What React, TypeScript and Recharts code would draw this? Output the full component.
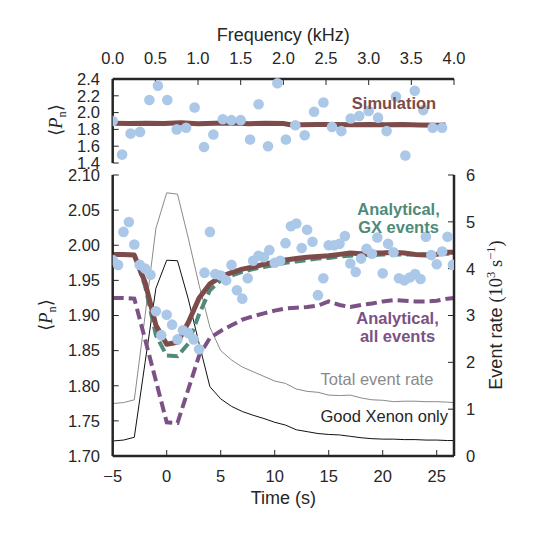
import { ComposedChart, Line, Scatter, XAxis, YAxis } from "recharts";

const FONT = "'Liberation Sans', Arial, sans-serif";
const SERIF = "'Liberation Serif', 'DejaVu Serif', serif";
const INK = "#262626";
const DOT = "#abc8e8";
const SIM = "#7d4b49";
const GX = "#4f8a7b";
const ALL = "#7b5186";
const TOTAL = "#8a8a8a";
const GOOD = "#111111";

// upper panel: <Pn> against frequency
const freqKHz = [
  0, 0.11, 0.21, 0.32, 0.43, 0.53, 0.64, 0.75, 0.86, 0.96, 1.07, 1.18, 1.29,
  1.39, 1.5, 1.61, 1.71, 1.82, 1.93, 2.03, 2.14, 2.25, 2.36, 2.47, 2.57, 2.68,
  2.79, 2.89, 3.0, 3.11, 3.21, 3.32, 3.43, 3.54, 3.64, 3.75, 3.86,
];
const freqPn = [
  1.9, 1.5, 1.75, 1.77, 2.15, 2.32, 2.15, 1.8, 1.82, 2.06, 1.59, 1.74, 1.92,
  1.91, 1.91, 1.68, 2.1, 1.6, 2.35, 1.68, 1.85, 1.73, 2.01, 2.12, 1.83, 1.78,
  1.93, 1.96, 2.02, 1.94, 1.78, 2.19, 1.49, 2.26, 2.03, 1.82, 1.82,
];
const simFreq = [
  0, 0.2, 0.4, 0.6, 0.8, 1.0, 1.2, 1.4, 1.6, 1.8, 2.0, 2.1, 2.2, 2.4, 2.6, 2.8,
  3.0, 3.2, 3.4, 3.6, 3.8, 3.9,
];
const simFreqPn = [
  1.872, 1.87, 1.873, 1.871, 1.878, 1.868, 1.873, 1.875, 1.867, 1.874, 1.87,
  1.853, 1.856, 1.858, 1.859, 1.855, 1.859, 1.856, 1.858, 1.852, 1.85, 1.852,
];

// lower panel: <Pn> and event rates against time
const scatterTime = [
  -5, -4.5, -4, -3.5, -3, -2.5, -2, -1.5, -1, -0.5, 0, 0.5, 1, 1.5, 2, 2.5, 3,
  3.5, 4, 4.5, 5, 5.5, 6, 6.5, 7, 7.5, 8, 8.5, 9, 9.5, 10, 10.5, 11, 11.5, 12,
  12.5, 13, 13.5, 14, 14.5, 15, 15.5, 16, 16.5, 17, 17.5, 18, 18.5, 19, 19.5,
  20, 20.5, 21, 21.5, 22, 22.5, 23, 23.5, 24, 24.5, 25, 25.5, 26, 26.5,
];
const scatterPn = [
  1.979, 1.972, 2.019, 2.033, 2.001, 1.972, 1.967, 1.958, 1.906, 1.872, 1.901,
  1.887, 1.866, 1.879, 1.875, 1.866, 1.852, 1.961, 2.019, 1.959, 1.957, 1.95,
  1.972, 1.936, 1.924, 1.953, 1.978, 1.985, 1.983, 1.993, 1.975, 1.978, 2.003,
  2.027, 2.031, 1.996, 2.022, 2.005, 1.929, 1.953, 2.0, 2.0, 2.002, 2.013,
  1.974, 1.962, 1.981, 1.995, 1.988, 2.011, 1.96, 2.002, 1.99, 1.953, 1.95,
  1.954, 1.959, 1.952, 2.012, 1.986, 1.973, 1.991, 2.012, 1.972,
];

const lineTime = [
  -5, -4, -3, -2, -1, 0, 1, 2, 3, 4, 5, 6, 7, 8, 9, 10, 11, 12, 13, 14, 15, 16,
  17, 18, 19, 20, 21, 22, 23, 24, 25, 26, 26.6,
];
const simPn = [
  1.987, 1.987, 1.986, 1.947, 1.886, 1.859, 1.862, 1.89, 1.925, 1.945, 1.955,
  1.961, 1.966, 1.969, 1.973, 1.976, 1.979, 1.981, 1.983, 1.984, 1.985, 1.987,
  1.989, 1.988, 1.989, 1.989, 1.99, 1.989, 1.987, 1.986, 1.987, 1.99, 1.99,
];
const gxPn = [
  1.987, 1.987, 1.986, 1.942, 1.872, 1.843, 1.842, 1.86, 1.902, 1.936, 1.95,
  1.957, 1.962, 1.966, 1.969, 1.972, 1.975, 1.977, 1.979, 1.981, 1.982, 1.984,
  1.985, 1.986, 1.986, 1.987, 1.987, 1.987, 1.987, 1.987, 1.988, 1.988, 1.988,
];
const allPn = [
  1.925, 1.925, 1.924, 1.866, 1.807, 1.748, 1.747, 1.795, 1.843, 1.868, 1.878,
  1.886, 1.894, 1.899, 1.903, 1.907, 1.91, 1.911, 1.912, 1.914, 1.92, 1.915,
  1.912, 1.915, 1.917, 1.92, 1.922, 1.921, 1.92, 1.92, 1.921, 1.924, 1.925,
];
const totalRate = [
  1.12, 1.14, 1.2, 3.0, 4.86, 5.62, 5.59, 4.65, 3.65, 2.75, 2.25, 2.05, 1.9,
  1.8, 1.7, 1.6, 1.55, 1.43, 1.38, 1.36, 1.3, 1.29, 1.3, 1.24, 1.2, 1.19, 1.16,
  1.17, 1.17, 1.16, 1.16, 1.15, 1.14,
];
const goodXenonRate = [
  0.32, 0.34, 0.4, 2.0, 3.58, 4.18, 4.17, 3.35, 2.4, 1.48, 1.22, 1.06, 0.95,
  0.87, 0.8, 0.72, 0.66, 0.56, 0.52, 0.48, 0.46, 0.45, 0.42, 0.39, 0.37, 0.36,
  0.36, 0.35, 0.35, 0.34, 0.34, 0.33, 0.33,
];

const freqTicks = [0, 0.5, 1, 1.5, 2, 2.5, 3, 3.5, 4];
const topPnTicks = [1.4, 1.6, 1.8, 2.0, 2.2, 2.4];
const timeTicks = [-5, 0, 5, 10, 15, 20, 25];
const pnTicks = [1.7, 1.75, 1.8, 1.85, 1.9, 1.95, 2.0, 2.05, 2.1];
const rateTicks = [0, 1, 2, 3, 4, 5, 6];

const topDots = freqKHz.map((f, i) => ({ f, p: freqPn[i] }));
const topLine = simFreq.map((f, i) => ({ f, p: simFreqPn[i] }));
const bottomDots = scatterTime.map((t, i) => ({ t, p: scatterPn[i] }));
const bottomLines = lineTime.map((t, i) => ({
  t,
  sim: simPn[i],
  gx: gxPn[i],
  all: allPn[i],
  total: totalRate[i],
  good: goodXenonRate[i],
}));

const tickStyle = { fill: INK, fontSize: 16.5, fontFamily: FONT };
const spine = { stroke: INK, strokeWidth: 2.5 };
const tickLine = { stroke: INK, strokeWidth: 1 };
const noLabel = () => <g />;
const dot = (p: any) => <circle cx={p.cx} cy={p.cy} r={5.3} fill={DOT} />;
const minus = (v: number) => (v < 0 ? "\u2212" + Math.abs(v) : String(v));

function PnLabel({ x, y }: { x: number; y: number }) {
  return (
    <text
      x={x}
      y={y}
      transform={`rotate(-90 ${x} ${y})`}
      textAnchor="middle"
      fill={INK}
      fontFamily={SERIF}
      fontSize={18.5}
    >
      <tspan>{"\u27e8"}</tspan>
      <tspan fontStyle="italic">P</tspan>
      <tspan fontSize={12.5} dy={4}>
        n
      </tspan>
      <tspan dy={-4}>{"\u27e9"}</tspan>
    </text>
  );
}

function Labels() {
  return (
    <svg
      width={540}
      height={540}
      style={{ position: "absolute", left: 0, top: 0, pointerEvents: "none" }}
      fontFamily={FONT}
      fontSize={16.5}
    >
      <text x={283.3} y={40.5} textAnchor="middle" fill={INK} fontSize={18}>
        Frequency (kHz)
      </text>
      <text x={283.3} y={503.5} textAnchor="middle" fill={INK} fontSize={18}>
        Time (s)
      </text>
      <PnLabel x={62} y={120} />
      <PnLabel x={52} y={315} />
      <text
        x={502}
        y={315}
        transform="rotate(-90 502 315)"
        textAnchor="middle"
        fill={INK}
        fontSize={18}
      >
        <tspan>Event rate </tspan>
        <tspan fontFamily={SERIF} fontSize={18.5}>
          (10
        </tspan>
        <tspan fontFamily={SERIF} fontSize={12.5} dy={-7}>
          3
        </tspan>
        <tspan fontFamily={SERIF} fontSize={18.5} dy={7}>
          {" s"}
        </tspan>
        <tspan fontFamily={SERIF} fontSize={12.5} dy={-7}>
          {"\u22121"}
        </tspan>
        <tspan fontFamily={SERIF} fontSize={18.5} dy={7}>
          )
        </tspan>
      </text>

      <g fontWeight="bold">
        <text x={394} y={108.5} textAnchor="middle" fill={SIM}>
          Simulation
        </text>
        <text x={398.5} y={215} textAnchor="middle" fill={GX}>
          Analytical,
        </text>
        <text x={398.5} y={233} textAnchor="middle" fill={GX}>
          GX events
        </text>
        <text x={397.5} y={323.5} textAnchor="middle" fill={ALL}>
          Analytical,
        </text>
        <text x={397.5} y={341.7} textAnchor="middle" fill={ALL}>
          all events
        </text>
      </g>
      <text x={320.5} y={385} fill={TOTAL}>
        Total event rate
      </text>
      <text x={320.5} y={422} fill={INK}>
        Good Xenon only
      </text>
    </svg>
  );
}

function FrequencyPanel() {
  return (
    <ComposedChart
      width={540}
      height={175}
      data={topLine}
      margin={{ top: 49, right: 86, bottom: 12, left: 72.7 }}
    >
      <XAxis
        dataKey="f"
        type="number"
        orientation="top"
        domain={[0, 4]}
        ticks={freqTicks}
        interval={0}
        allowDataOverflow
        height={30}
        tickSize={-6}
        tickMargin={21}
        tick={tickStyle}
        tickLine={tickLine}
        axisLine={spine}
        tickFormatter={(v: number) => v.toFixed(1)}
      />
      <XAxis
        xAxisId="frame"
        dataKey="f"
        type="number"
        orientation="bottom"
        domain={[0, 4]}
        height={0}
        tick={noLabel}
        tickLine={false}
        axisLine={spine}
      />
      <YAxis
        type="number"
        domain={[1.4, 2.4]}
        ticks={topPnTicks}
        interval={0}
        width={40}
        tickSize={-6}
        tickMargin={18.7}
        tick={tickStyle}
        tickLine={tickLine}
        axisLine={spine}
        tickFormatter={(v: number) => v.toFixed(1)}
      />
      <YAxis
        yAxisId="frame"
        type="number"
        orientation="right"
        domain={[1.4, 2.4]}
        ticks={topPnTicks}
        interval={0}
        width={0}
        tickSize={-6}
        tick={noLabel}
        tickLine={tickLine}
        axisLine={spine}
      />
      <Scatter
        data={topDots}
        dataKey="p"
        shape={dot}
        isAnimationActive={false}
      />
      <Line
        dataKey="p"
        stroke={SIM}
        strokeWidth={5}
        dot={false}
        activeDot={false}
        isAnimationActive={false}
      />
    </ComposedChart>
  );
}

function TimePanel() {
  return (
    <ComposedChart
      width={540}
      height={375}
      data={bottomLines}
      margin={{ top: 10, right: 46, bottom: 54, left: 72.7 }}
    >
      <XAxis
        dataKey="t"
        type="number"
        domain={[-5, 26.6]}
        ticks={timeTicks}
        interval={0}
        allowDataOverflow
        height={30}
        tickSize={-6}
        tickMargin={20.3}
        tick={tickStyle}
        tickLine={tickLine}
        axisLine={spine}
        tickFormatter={minus}
      />
      <XAxis
        xAxisId="frame"
        dataKey="t"
        type="number"
        orientation="top"
        domain={[-5, 26.6]}
        ticks={timeTicks}
        interval={0}
        height={0}
        tickSize={-6}
        tick={noLabel}
        tickLine={tickLine}
        axisLine={spine}
      />
      <YAxis
        type="number"
        domain={[1.7, 2.1]}
        ticks={pnTicks}
        interval={0}
        width={40}
        tickSize={-6}
        tickMargin={18.7}
        tick={tickStyle}
        tickLine={tickLine}
        axisLine={spine}
        tickFormatter={(v: number) => v.toFixed(2)}
      />
      <YAxis
        yAxisId="rate"
        type="number"
        orientation="right"
        domain={[0, 6]}
        ticks={rateTicks}
        interval={0}
        width={40}
        tickSize={-6}
        tickMargin={18}
        tick={tickStyle}
        tickLine={tickLine}
        axisLine={spine}
      />
      <Scatter
        data={bottomDots}
        dataKey="p"
        shape={dot}
        isAnimationActive={false}
      />
      <Line
        yAxisId="rate"
        dataKey="total"
        stroke={TOTAL}
        strokeWidth={1}
        dot={false}
        activeDot={false}
        isAnimationActive={false}
      />
      <Line
        yAxisId="rate"
        dataKey="good"
        stroke={GOOD}
        strokeWidth={1}
        dot={false}
        activeDot={false}
        isAnimationActive={false}
      />
      <Line
        dataKey="all"
        stroke={ALL}
        strokeWidth={4}
        strokeDasharray="11 5"
        dot={false}
        activeDot={false}
        isAnimationActive={false}
      />
      <Line
        dataKey="gx"
        stroke={GX}
        strokeWidth={4}
        strokeDasharray="11 5"
        dot={false}
        activeDot={false}
        isAnimationActive={false}
      />
      <Line
        dataKey="sim"
        stroke={SIM}
        strokeWidth={5}
        strokeLinejoin="round"
        dot={false}
        activeDot={false}
        isAnimationActive={false}
      />
    </ComposedChart>
  );
}

export default function App() {
  return (
    <div
      style={{
        position: "absolute",
        left: 0,
        top: 0,
        width: 540,
        height: 540,
        background: "#fff",
        fontFamily: FONT,
      }}
    >
      <div style={{ position: "absolute", left: 0, top: 0 }}>
        <FrequencyPanel />
      </div>
      <div style={{ position: "absolute", left: 0, top: 165 }}>
        <TimePanel />
      </div>
      <Labels />
    </div>
  );
}
